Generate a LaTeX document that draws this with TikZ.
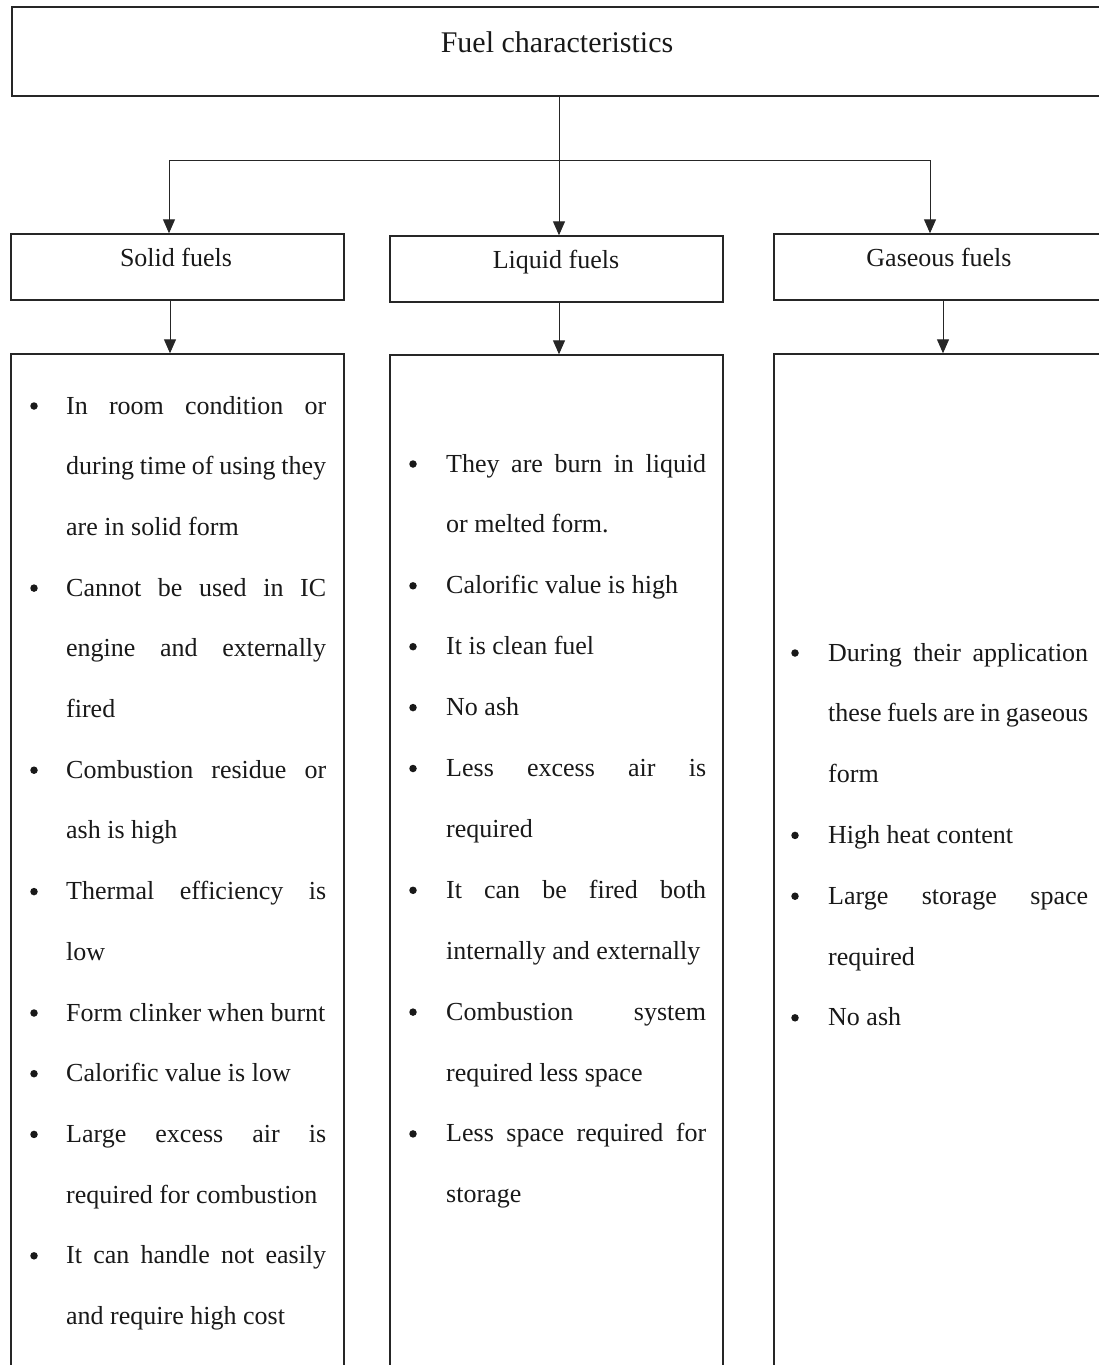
\documentclass[tikz,border=0pt]{standalone}
\usepackage{fontspec}
\setmainfont{Liberation Serif}
\usetikzlibrary{arrows.meta}
\tikzset{
  box/.style={draw=black!85, line width=1.4pt, inner sep=0pt},
  arr/.style={draw=black!85, line width=1pt, -{Triangle[length=14pt,width=12pt]}},
  conn/.style={draw=black!85, line width=1pt},
  txt/.style={anchor=base west, inner sep=0pt, text=black!90},
  bul/.style={circle, fill=black!90, inner sep=0pt, minimum size=7.5pt},
  hdr/.style={anchor=base, inner sep=0pt, text=black!90}
}
\newcommand\txtline[5]{\node[txt] (#1) at (#2,{#3}) {\ifx j#4\makebox[260pt][s]{#5}\else #5\fi};}
\newcommand\bulletat[3]{\node[bul] (#1) at (#2,{#3-8}) {};}
\begin{document}
\begin{tikzpicture}[x=1pt,y=-1pt,font=\fontsize{26}{30}\selectfont]
\fill[white] (0,0) rectangle (1099,1365);
\useasboundingbox (0,0) rectangle (1099,1365);
\clip (0,0) rectangle (1099,1365);

% top box
\node[box, minimum width=1092pt, minimum height=89pt] (top) at (558,51.5) {};
\node[hdr, font=\fontsize{30}{34}\selectfont] (title) at (557,52) {Fuel characteristics};

% header boxes
\node[box, minimum width=333pt, minimum height=66pt] (solidh) at (177.5,267) {};
\node[box, minimum width=333pt, minimum height=66pt] (liquidh) at (556.5,269) {};
\node[box, minimum width=333pt, minimum height=66pt] (gash) at (940.5,267) {};
\node[hdr] (solidt) at (176,266) {Solid fuels};
\node[hdr] (liquidt) at (556,268) {Liquid fuels};
\node[hdr] (gast) at (939,266) {Gaseous fuels};

% content boxes
\node[box, minimum width=333pt, minimum height=1046pt] (solidc) at (177.5,877) {};
\node[box, minimum width=333pt, minimum height=1045pt] (liquidc) at (556.5,877.5) {};
\node[box, minimum width=333pt, minimum height=1046pt] (gasc) at (940.5,877) {};

% connectors
\coordinate (j) at (559,160);
\coordinate (jl) at (169,160);
\coordinate (jr) at (930,160);
\coordinate (as) at (170,0);
\coordinate (al) at (559,0);
\coordinate (ag) at (943,0);
\draw[conn] (top.south -| j) -- (j);
\draw[conn] (jl) -- (jr);
\draw[arr] (jl) -- (jl |- solidh.north);
\draw[arr] (j) -- (j |- liquidh.north);
\draw[arr] (jr) -- (jr |- gash.north);
\draw[arr] (solidh.south -| as) -- (solidc.north -| as);
\draw[arr] (liquidh.south -| al) -- (liquidc.north -| al);
\draw[arr] (gash.south -| ag) -- (gasc.north -| ag);

% solid fuels list
\bulletat{sb0}{34}{414}
\txtline{s0}{66}{414}{j}{In room condition or}
\txtline{s1}{66}{414+60.7*1}{j}{during time of using they}
\txtline{s2}{66}{414+60.7*2}{l}{are in solid form}
\bulletat{sb3}{34}{414+60.7*3}
\txtline{s3}{66}{414+60.7*3}{j}{Cannot be used in IC}
\txtline{s4}{66}{414+60.7*4}{j}{engine and externally}
\txtline{s5}{66}{414+60.7*5}{l}{fired}
\bulletat{sb6}{34}{414+60.7*6}
\txtline{s6}{66}{414+60.7*6}{j}{Combustion residue or}
\txtline{s7}{66}{414+60.7*7}{l}{ash is high}
\bulletat{sb8}{34}{414+60.7*8}
\txtline{s8}{66}{414+60.7*8}{j}{Thermal efficiency is}
\txtline{s9}{66}{414+60.7*9}{l}{low}
\bulletat{sb10}{34}{414+60.7*10}
\txtline{s10}{66}{414+60.7*10}{l}{Form clinker when burnt}
\bulletat{sb11}{34}{414+60.7*11}
\txtline{s11}{66}{414+60.7*11}{l}{Calorific value is low}
\bulletat{sb12}{34}{414+60.7*12}
\txtline{s12}{66}{414+60.7*12}{j}{Large excess air is}
\txtline{s13}{66}{414+60.7*13}{l}{required for combustion}
\bulletat{sb14}{34}{414+60.7*14}
\txtline{s14}{66}{414+60.7*14}{j}{It can handle not easily}
\txtline{s15}{66}{414+60.7*15}{l}{and require high cost}

% liquid fuels list
\bulletat{lb0}{413}{472}
\txtline{l0}{446}{472}{j}{They are burn in liquid}
\txtline{l1}{446}{472+60.9*1}{l}{or melted form.}
\bulletat{lb2}{413}{472+60.9*2}
\txtline{l2}{446}{472+60.9*2}{l}{Calorific value is high}
\bulletat{lb3}{413}{472+60.9*3}
\txtline{l3}{446}{472+60.9*3}{l}{It is clean fuel}
\bulletat{lb4}{413}{472+60.9*4}
\txtline{l4}{446}{472+60.9*4}{l}{No ash}
\bulletat{lb5}{413}{472+60.9*5}
\txtline{l5}{446}{472+60.9*5}{j}{Less excess air is}
\txtline{l6}{446}{472+60.9*6}{l}{required}
\bulletat{lb7}{413}{472+60.9*7}
\txtline{l7}{446}{472+60.9*7}{j}{It can be fired both}
\txtline{l8}{446}{472+60.9*8}{l}{internally and externally}
\bulletat{lb9}{413}{472+60.9*9}
\txtline{l9}{446}{472+60.9*9}{j}{Combustion system}
\txtline{l10}{446}{472+60.9*10}{l}{required less space}
\bulletat{lb11}{413}{472+60.9*11}
\txtline{l11}{446}{472+60.9*11}{j}{Less space required for}
\txtline{l12}{446}{472+60.9*12}{l}{storage}

% gaseous fuels list
\bulletat{gb0}{795}{661}
\txtline{g0}{828}{661}{j}{During their application}
\txtline{g1}{828}{661+60.8*1}{j}{these fuels are in gaseous}
\txtline{g2}{828}{661+60.8*2}{l}{form}
\bulletat{gb3}{795}{661+60.8*3}
\txtline{g3}{828}{661+60.8*3}{l}{High heat content}
\bulletat{gb4}{795}{661+60.8*4}
\txtline{g4}{828}{661+60.8*4}{j}{Large storage space}
\txtline{g5}{828}{661+60.8*5}{l}{required}
\bulletat{gb6}{795}{661+60.8*6}
\txtline{g6}{828}{661+60.8*6}{l}{No ash}
\end{tikzpicture}
\end{document}
